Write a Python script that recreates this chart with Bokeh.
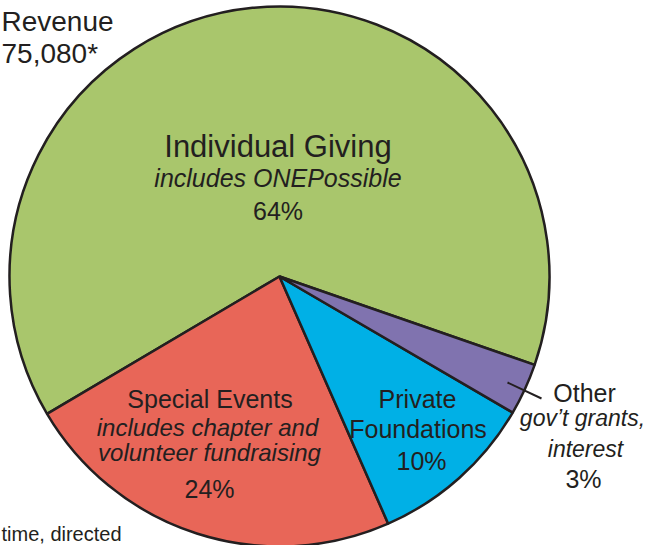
import numpy as np
from bokeh.plotting import figure
from bokeh.models import ColumnDataSource, Range1d
from bokeh.core.properties import value
from bokeh.embed import file_html
from bokeh.resources import INLINE

# ---- data (shares, percent) ----
categories = ["Individual Giving", "Special Events", "Private Foundations", "Other"]
shares = [63.8, 23.1, 10.0, 3.1]
pct_labels = ["64%", "24%", "10%", "3%"]
colors = ["#A9C66C", "#E86658", "#00B0E6", "#8073AF"]

# ---- geometry (reference pixel frame, y measured upward from bottom) ----
W, H = 650, 545
CX, CY, R = 279, H - 276, 270
START_DEG = -19.1

vals = np.array(shares, dtype=float)
frac = vals / vals.sum()
cum = np.concatenate([[0.0], np.cumsum(frac)])
start = np.deg2rad(START_DEG) + 2 * np.pi * cum[:-1]
end = np.deg2rad(START_DEG) + 2 * np.pi * cum[1:]

src = ColumnDataSource(dict(cat=categories, start=start, end=end, color=colors,
                            x=[CX] * 4, y=[CY] * 4))

p = figure(width=W, height=H, output_backend="svg", toolbar_location=None,
           x_range=Range1d(0, W), y_range=Range1d(0, H),
           min_border=0, min_border_left=0, min_border_right=0,
           min_border_top=0, min_border_bottom=0)
p.axis.visible = False
p.grid.visible = False
p.outline_line_color = None
p.background_fill_color = "white"
p.border_fill_color = "white"

p.wedge(x="x", y="y", radius=R, start_angle="start", end_angle="end",
        fill_color="color", line_color="#231F20", line_width=2.5, source=src)

TXT = "#231F20"
FONT = value("Liberation Sans")


def label(x, y_ref, text, size, style="normal", align="center"):
    p.text(x=[x], y=[H - y_ref], text=[text], text_font=FONT,
           text_font_size=f"{size}px", text_font_style=style,
           text_align=align, text_baseline="alphabetic", text_color=TXT)


# Individual Giving
label(277.5, 146, categories[0], 31)
label(277.5, 177, "includes ONEPossible", 25, "italic")
label(277.5, 210, pct_labels[0], 25)

# Special Events
label(209.5, 398, categories[1], 25)
label(207, 427, "includes chapter and", 24, "italic")
label(209, 452, "volunteer fundraising", 24, "italic")
label(209, 488, pct_labels[1], 25)

# Private Foundations
label(417, 398, "Private", 25)
label(417.5, 428, "Foundations", 25)
label(421, 460, pct_labels[2], 25)

# Other
label(584, 392, categories[3], 25)
label(582, 417, "gov\u2019t grants,", 23, "italic")
label(585, 448, "interest", 23, "italic")
label(583, 478, pct_labels[3], 25)

# leader line for Other
p.line(x=[507, 541], y=[H - 382, H - 398], line_color=TXT, line_width=2)

# title and footnote fragments at the edges
label(1, 21, "Revenue", 28, align="left")
label(1, 53, "75,080*", 28, align="left")
label(1, 533, "time, directed", 20, align="left")

open("out.html", "w").write(file_html(p, INLINE))
